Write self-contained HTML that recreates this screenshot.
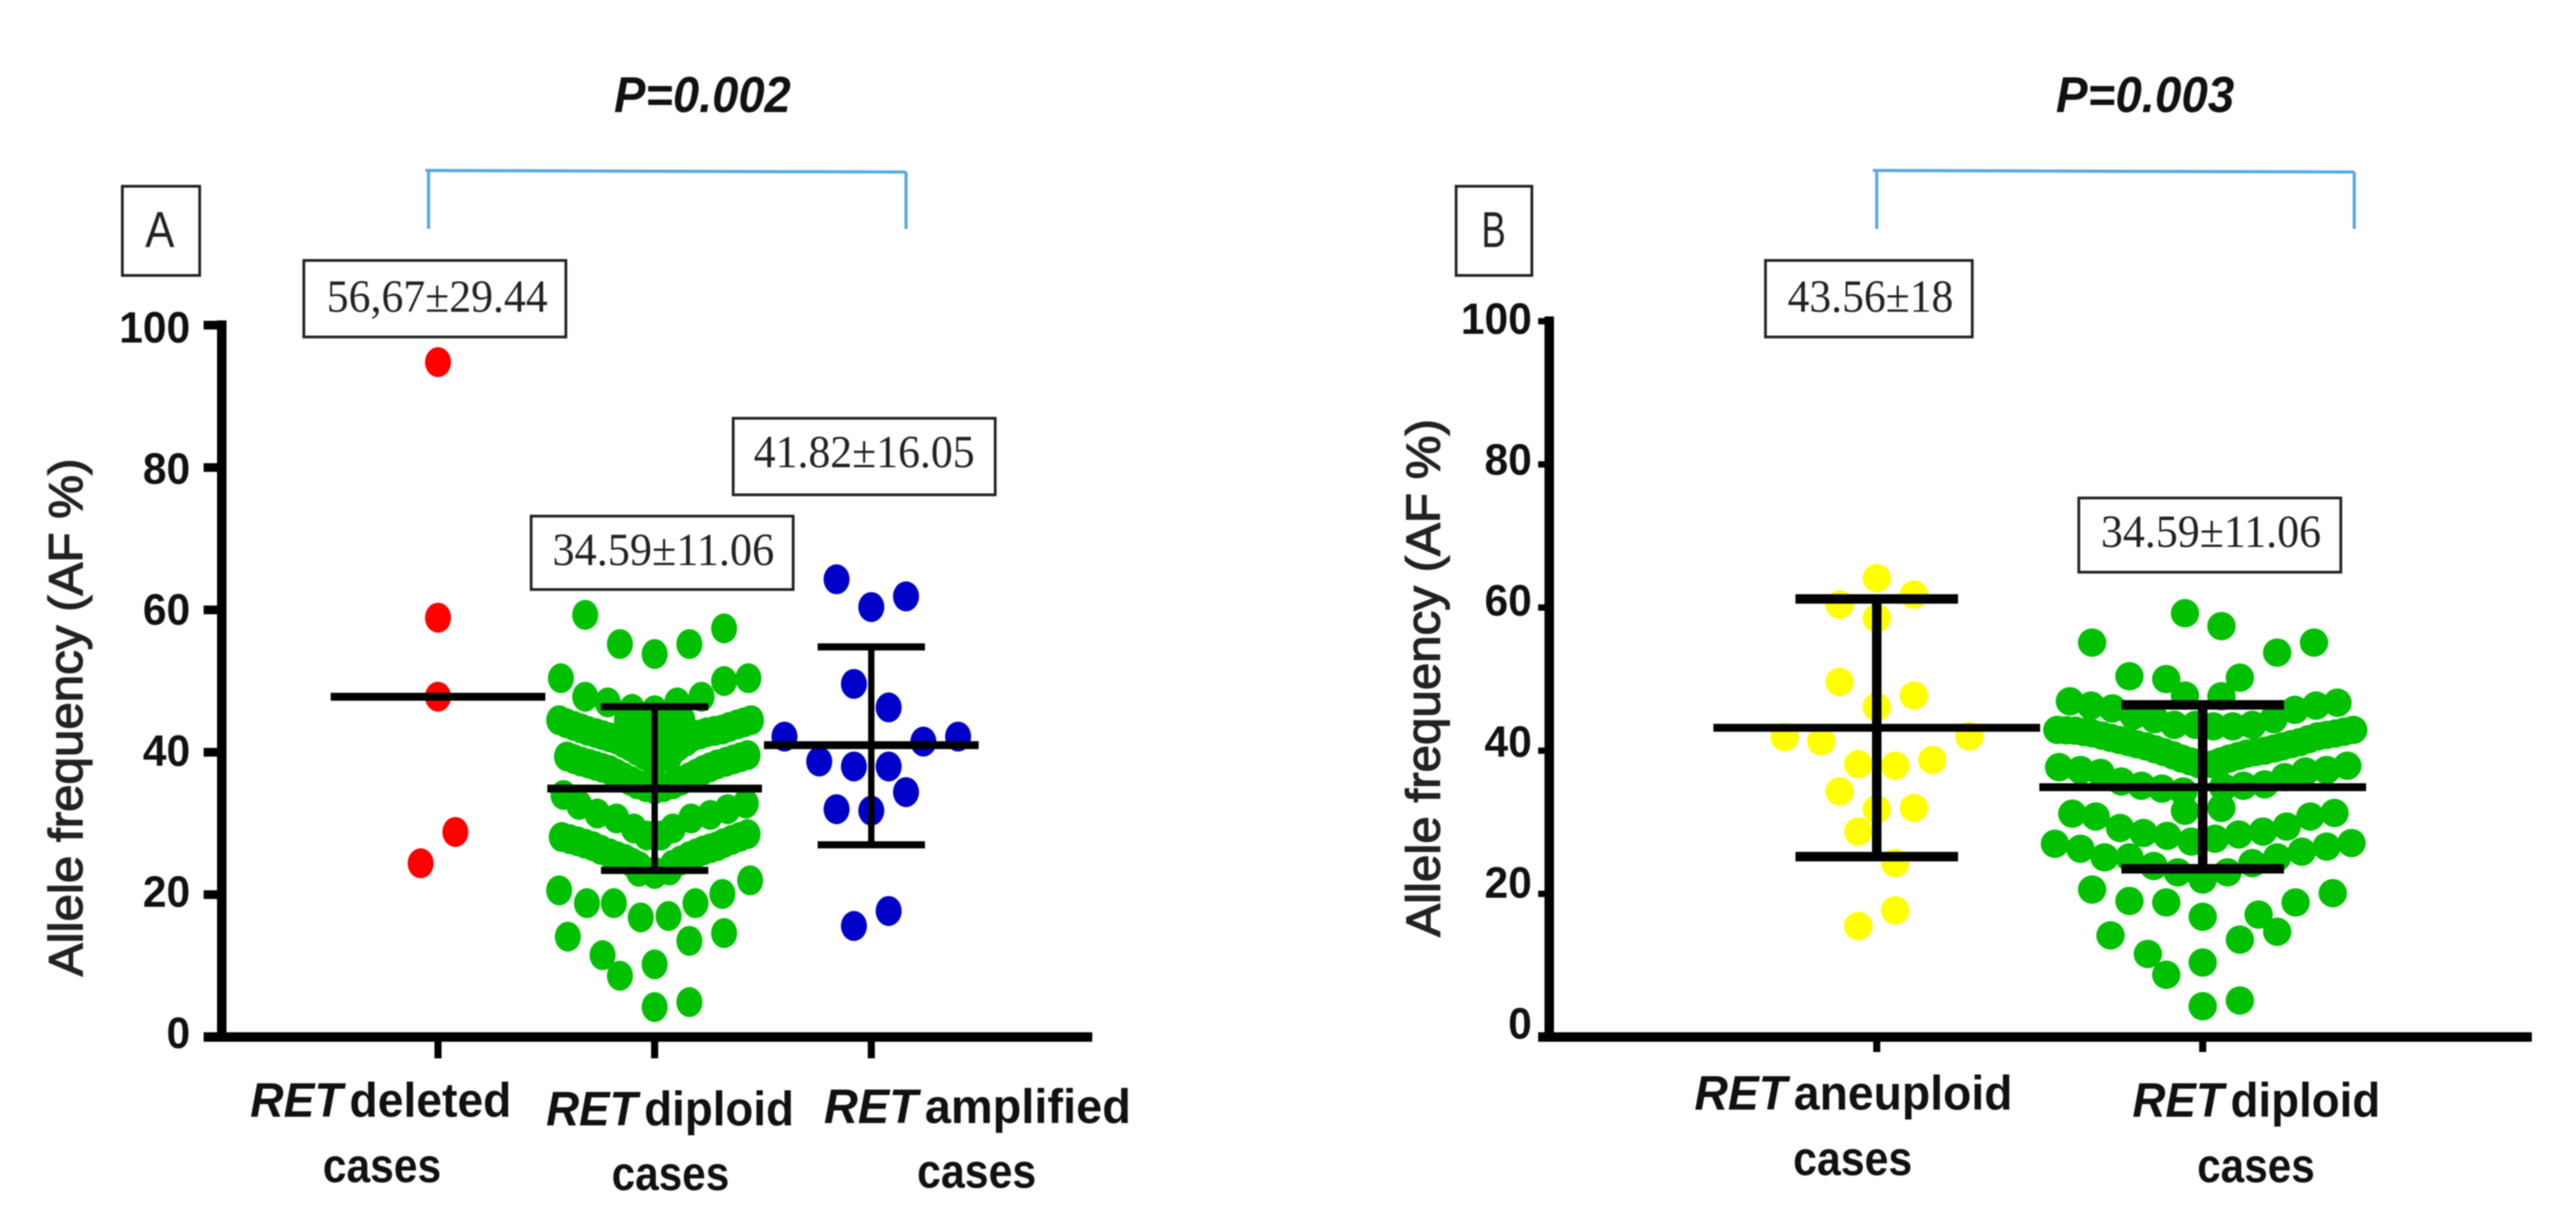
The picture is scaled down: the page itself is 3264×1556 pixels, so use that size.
<!DOCTYPE html>
<html lang="en">
<head>
<meta charset="utf-8">
<title>Allele frequency by RET status</title>
<style>
html,body{margin:0;padding:0;background:#fff;}
svg{display:block;filter:blur(0.8px);}
.tick{font-family:"Liberation Sans",sans-serif;font-weight:bold;font-size:56px;fill:#111;text-anchor:end;}
.ytitle{font-family:"Liberation Sans",sans-serif;font-weight:normal;font-size:60px;fill:#222;stroke:#222;stroke-width:1.6px;}
.pval{font-family:"Liberation Sans",sans-serif;font-weight:bold;font-style:italic;font-size:64px;fill:#111;}
.box{fill:#fff;stroke:#222;stroke-width:3.5;}
.stat{font-family:"Liberation Serif",serif;font-size:58px;fill:#222;}
.panel{font-family:"Liberation Sans",sans-serif;font-size:64px;fill:#222;}
.xlab{font-family:"Liberation Sans",sans-serif;font-weight:bold;font-size:61px;fill:#111;word-spacing:-8px;}
.xlab .ret{font-style:italic;}
.bracket{fill:none;stroke:#5aa9e0;stroke-width:4;}
</style>
</head>
<body>
<svg id="chart" xmlns="http://www.w3.org/2000/svg" width="3264" height="1556" viewBox="0 0 3264 1556">
<rect width="3264" height="1556" fill="#fff"/>

<text class="pval" x="778" y="142" textLength="224" lengthAdjust="spacingAndGlyphs">P=0.002</text>
<text class="pval" x="2605" y="142" textLength="226" lengthAdjust="spacingAndGlyphs">P=0.003</text>

<path class="bracket" d="M543 290V216M539 216L1148 218M1148 218V290"/>
<path class="bracket" d="M2378 290V216M2373 216L2983 218M2983 218V290"/>

<rect class="box" x="155" y="236" width="98" height="113"/>
<text class="panel" x="184" y="313" textLength="37" lengthAdjust="spacingAndGlyphs">A</text>
<rect class="box" x="1845" y="236" width="96" height="113"/>
<text class="panel" x="1877" y="313" textLength="31" lengthAdjust="spacingAndGlyphs">B</text>

<g>
<rect class="box" x="385" y="330" width="332" height="97"/>
<text class="stat" x="414" y="395" textLength="280" lengthAdjust="spacingAndGlyphs">56,67±29.44</text>
</g>
<g>
<rect class="box" x="929" y="530" width="332" height="97"/>
<text class="stat" x="955" y="592" textLength="280" lengthAdjust="spacingAndGlyphs">41.82±16.05</text>
</g>
<g>
<rect class="box" x="673" y="654" width="332" height="93"/>
<text class="stat" x="700" y="716" textLength="281" lengthAdjust="spacingAndGlyphs">34.59±11.06</text>
</g>
<g>
<rect class="box" x="2237" y="330" width="262" height="97"/>
<text class="stat" x="2265" y="395" textLength="210" lengthAdjust="spacingAndGlyphs">43.56±18</text>
</g>
<g>
<rect class="box" x="2634" y="631" width="332" height="94"/>
<text class="stat" x="2662" y="693" textLength="279" lengthAdjust="spacingAndGlyphs">34.59±11.06</text>
</g>

<text class="ytitle" transform="translate(104,1237) rotate(-90)" textLength="656" lengthAdjust="spacingAndGlyphs">Allele frequency (AF %)</text>
<text class="ytitle" transform="translate(1824,1187) rotate(-90)" textLength="656" lengthAdjust="spacingAndGlyphs">Allele frequency (AF %)</text>

<g id="marks"></g>

<text class="xlab" x="317" y="1415" textLength="331" lengthAdjust="spacingAndGlyphs"><tspan class="ret">RET</tspan> deleted</text>
<text class="xlab" x="409" y="1498" textLength="150" lengthAdjust="spacingAndGlyphs">cases</text>
<text class="xlab" x="692" y="1426" textLength="314" lengthAdjust="spacingAndGlyphs"><tspan class="ret">RET</tspan> diploid</text>
<text class="xlab" x="775" y="1508" textLength="149" lengthAdjust="spacingAndGlyphs">cases</text>
<text class="xlab" x="1044" y="1423" textLength="389" lengthAdjust="spacingAndGlyphs"><tspan class="ret">RET</tspan> amplified</text>
<text class="xlab" x="1162" y="1505" textLength="151" lengthAdjust="spacingAndGlyphs">cases</text>
<text class="xlab" x="2147" y="1406" textLength="403" lengthAdjust="spacingAndGlyphs"><tspan class="ret">RET</tspan> aneuploid</text>
<text class="xlab" x="2272" y="1489" textLength="151" lengthAdjust="spacingAndGlyphs">cases</text>
<text class="xlab" x="2702" y="1415" textLength="314" lengthAdjust="spacingAndGlyphs"><tspan class="ret">RET</tspan> diploid</text>
<text class="xlab" x="2784" y="1498" textLength="149" lengthAdjust="spacingAndGlyphs">cases</text>
</svg>

<script>
// Shared axis values
const yTickValues = [0, 20, 40, 60, 80, 100];
const yTickLabels = ['0', '20', '40', '60', '80', '100'];

// Panel A categories and summaries
const categoriesA = ['deleted', 'diploid', 'amplified'];
const meansA = [47.8, 34.9, 41.0];
const upperA = [null, 46.4, 54.8];
const lowerA = [null, 23.4, 27.0];

// Panel B categories and summaries
const categoriesB = ['aneuploid', 'diploid'];
const meansB = [43.2, 34.9];
const upperB = [61.2, 46.4];
const lowerB = [25.2, 23.5];

// Panel A: deleted
const deletedValues = [94.8, 58.9, 47.8, 28.8, 24.4];
const deletedSlots = [0, 0, 0, 1, -1];

// Panel A: diploid
const diploidAValues = [59.3,55.2,53.8,55.2,57.4,50.4,50.4,50.0,47.8,47.0,46.1,45.9,47.0,47.8,
  43.9,43.9,41.4,41.4,39.4,
  44.5,43.7,43.0,42.4,41.8,40.8,39.6,
  44.5,43.9,43.2,42.8,42.2,40.8,39.8,
  39.4,38.7,38.1,37.5,36.5,35.5,34.8,
  39.6,39.0,38.3,37.5,36.5,35.5,
  34.0,32.6,31.4,30.7,29.3,28.3,
  32.8,32.0,31.2,30.7,29.3,28.3,
  28.1,27.5,26.8,25.8,25.0,24.0,23.2,
  28.5,27.7,26.8,26.2,25.4,24.2,
  23.2,23.4,22.9,
  20.6,18.8,18.8,16.8,17.0,18.8,20.1,22.0,
  14.1,11.5,8.6,10.2,13.5,14.6,4.2,4.9,
  44.5,44.5,42.5,42.5,41.0,41.0,41.4,38.5,
  44.1,43.35,42.7,42.1,41.3,40.2,
  44.2,43.55,43.0,42.5,41.5,40.3,
  39.05,38.4,37.8,37.0,36.0,35.1,
  39.3,38.65,37.9,37.0,36.0,35.1,
  27.8,27.15,26.3,25.4,24.5,
  28.1,27.25,26.5,25.8,24.8];
const diploidASlots = [-4,-2,0,2,4,-5.4,5.4,4,-4,-2.7,-1.3,0,1.3,2.7,
  -0.9,0.9,-0.9,0.9,0.85,
  -5.5,-4.65,-3.85,-3,-2.2,-1.4,-0.6,
  5.55,4.75,3.9,3,2.2,1.35,0.65,
  -5.05,-4.25,-3.4,-2.6,-1.8,-1,0,
  5.35,4.55,3.6,2.8,2,1.05,
  -5.25,-4.35,-3.3,-2.2,-1.2,-0.45,
  5.25,4.2,3.2,2.1,1.05,0.35,
  -5.35,-4.45,-3.55,-2.6,-1.7,-0.9,0,
  5.35,4.45,3.6,2.8,2,1.05,
  -0.9,0.85,0,
  -5.5,-3.9,-2.35,-0.8,0.8,2.35,3.9,5.5,
  -5,-3,-2,0,2,4,0,2,
  -1.6,1.6,-1.6,1.6,-1.1,1.1,0,0,
  -5.1,-4.25,-3.4,-2.6,-1.8,-1,
  5.15,4.3,3.45,2.6,1.8,1,
  -4.65,-3.8,-3,-2.2,-1.4,-0.5,
  4.95,4.1,3.2,2.4,1.5,0.5,
  -4.9,-4,-3.1,-2.15,-1.3,
  4.9,4,3.2,2.4,1.5];

// Panel A: amplified
const amplifiedValues = [64.3,61.9,60.4,49.6,46.3,42.2,42.2,41.5,38.7,38.0,38.0,34.4,32.0,31.8,17.7,15.6];
const amplifiedSlots = [-2,2,0,-1,1,-5,5,3,-3,-1,1,2,-2,0,1,-1];

// Panel B: aneuploid
const aneuploidValues = [64.1,61.8,60.4,58.5,49.6,47.7,46.1,41.9,41.3,42.0,38.1,37.9,38.7,34.3,31.8,32.0,28.7,24.3,17.7,15.5];
const aneuploidSlots = [0,2.14,-2.14,0,-2.14,2.14,0,-5.3,-3.2,5.33,-1.06,1.06,3.2,-2.14,0,2.14,-1.06,1.06,1.06,-1.06];

// Panel B: diploid
const diploidBValues = [59.2,57.4,55.1,53.7,55.1,50.4,50.0,50.2,47.7,47.6,
  46.9,46.3,45.9,44.9,44.4,43.6,43.6,
  46.7,46.3,45.7,44.4,43.6,43.4,43.4,
  42.9,42.8,42.4,41.8,41.2,40.6,39.8,38.9,38.1,
  42.9,42.4,42.0,41.2,40.6,40.0,39.6,38.9,38.1,
  37.7,37.3,36.9,35.7,35.1,34.7,34.3,
  37.9,37.3,37.1,36.3,35.3,35.1,34.9,
  31.6,32.0,
  31.2,30.8,29.2,28.5,28.1,27.3,27.7,28.3,28.7,29.4,30.8,31.3,
  27.0,26.3,25.1,25.1,23.9,23.0,22.0,23.0,24.3,25.1,25.9,26.6,27.1,
  20.6,19.0,18.8,16.8,17.1,18.8,20.1,
  14.2,11.6,8.7,10.4,13.6,14.7,4.3,5.1,
  42.85,42.6,42.1,41.5,40.9,40.2,39.35,38.5,
  42.65,42.2,41.6,40.9,40.3,39.8,39.25,38.5];
const diploidBSlots = [-1.02,1.08,-6.37,4.29,6.41,-4.22,-2.1,2.14,-1.02,1.08,
  -7.65,-6.43,-5.2,-3.98,-2.76,-1.63,-0.41,
  7.76,6.53,5.31,4.08,2.86,1.73,0.61,
  -8.37,-7.35,-6.33,-5.31,-4.29,-3.27,-2.24,-1.22,-0.2,
  8.67,7.65,6.63,5.61,4.59,3.57,2.55,1.53,0.61,
  -8.27,-7.04,-5.88,-4.69,-3.53,-2.35,-1.12,
  8.33,7.14,5.92,4.73,3.57,2.35,1.18,
  -1.02,1.08,
  -7.51,-6.16,-4.76,-3.41,-2.04,-0.65,0.71,2.08,3.47,4.84,6.2,7.59,
  -8.51,-7.04,-5.65,-4.22,-2.82,-1.43,0,1.43,2.86,4.29,5.71,7.14,8.57,
  -6.37,-4.22,-2.1,0,3.22,5.35,7.49,
  -5.31,-3.16,-2.1,0,2.14,4.29,0,2.14,
  -7.85,-6.85,-5.8,-4.8,-3.8,-2.75,-1.7,-0.7,
  8.15,7.15,6.1,5.1,4.1,3.05,2.05,1.05];

const SVG_NS = 'http://www.w3.org/2000/svg';
const SLOT_PX = 22;
const DIGIT_PX = 30;
const marks = document.getElementById('marks');

function node(tag, attrs, parent) {
  const el = document.createElementNS(SVG_NS, tag);
  for (const k in attrs) el.setAttribute(k, attrs[k]);
  (parent || marks).appendChild(el);
  return el;
}

const panelA = {
  name: 'a',
  y: v => 1314 - 9.02 * v,
  x: i => 555 + 274.5 * i,
  labelY: v => 1328 - 8.94 * v,
  labelX: 241,
  axisX: 281, axisRight: 1384, tickLeft: 258, tickBottom: 1341, tickH: 11,
  tickW: 9, rx: 16.5, ry: 19,
  meanHalf: 136, capHalf: 68, meanW: 10, capW: 9, stemW: 8
};
const panelB = {
  name: 'b',
  y: v => 1314 - 9.07 * v,
  x: i => 2378 + 413 * i,
  labelY: v => 1316 - 8.93 * v,
  labelX: 1941,
  axisX: 1963, axisRight: 3208, tickLeft: 1949, tickBottom: 1333, tickH: 8,
  tickW: 9, rx: 18, ry: 18,
  meanHalf: 207, capHalf: 103, meanW: 10, capW: 12, stemW: 12
};

function drawAxes(p) {
  const yAxis = node('rect', {x: p.axisX - 6, y: p.y(100) - 6, width: 12, height: p.y(0) - p.y(100) + 12, fill: '#000'});
  
  
  const xAxis = node('rect', {x: p.tickLeft, y: p.y(0) - 6, width: p.axisRight - p.tickLeft, height: 12, fill: '#000'});
  
  
  yTickValues.forEach((v, i) => {
    const t = node('rect', {x: p.tickLeft, y: p.y(v) - p.tickH / 2, width: p.axisX - p.tickLeft, height: p.tickH, fill: '#000'});
    
    
    const l = node('text', {class: 'tick', x: p.labelX, y: p.labelY(v), textLength: yTickLabels[i].length * DIGIT_PX, lengthAdjust: 'spacingAndGlyphs'});
    l.textContent = yTickLabels[i];
    
    
  });
}

function drawXTicks(p, cats) {
  cats.forEach((c, i) => {
    const t = node('rect', {x: p.x(i) - p.tickW / 2, y: p.y(0), width: p.tickW, height: p.tickBottom - p.y(0), fill: '#000'});
    
    
  });
}

function drawDots(p, idx, values, slots, color, label) {
  values.forEach((v, i) => {
    const d = node('ellipse', {cx: p.x(idx) + slots[i] * SLOT_PX, cy: p.y(v), rx: p.rx, ry: p.ry, fill: color});
    
    
  });
}

function drawSummary(p, idx, mean, up, low, cat) {
  const cx = p.x(idx);
  if (up !== null) {
    const s = node('rect', {x: cx - p.stemW / 2, y: p.y(up), width: p.stemW, height: p.y(low) - p.y(up), fill: '#000'});
    
    
    [up, low].forEach((v, j) => {
      const c = node('rect', {x: cx - p.capHalf, y: p.y(v) - p.capW / 2, width: p.capHalf * 2, height: p.capW, fill: '#000'});
      
      
    });
  }
  const m = node('rect', {x: cx - p.meanHalf, y: p.y(mean) - p.meanW / 2, width: p.meanHalf * 2, height: p.meanW, fill: '#000'});
  
  
}

drawAxes(panelA);
drawXTicks(panelA, categoriesA);
drawDots(panelA, 0, deletedValues, deletedSlots, '#ff0000', 'deleted');
drawDots(panelA, 1, diploidAValues, diploidASlots, '#00c000', 'diploid-a');
drawDots(panelA, 2, amplifiedValues, amplifiedSlots, '#0000c8', 'amplified');
categoriesA.forEach((c, i) => drawSummary(panelA, i, meansA[i], upperA[i], lowerA[i], c));

drawAxes(panelB);
drawXTicks(panelB, categoriesB);
drawDots(panelB, 0, aneuploidValues, aneuploidSlots, '#ffff00', 'aneuploid');
drawDots(panelB, 1, diploidBValues, diploidBSlots, '#00c000', 'diploid-b');
categoriesB.forEach((c, i) => drawSummary(panelB, i, meansB[i], upperB[i], lowerB[i], c));
</script>
</body>
</html>
